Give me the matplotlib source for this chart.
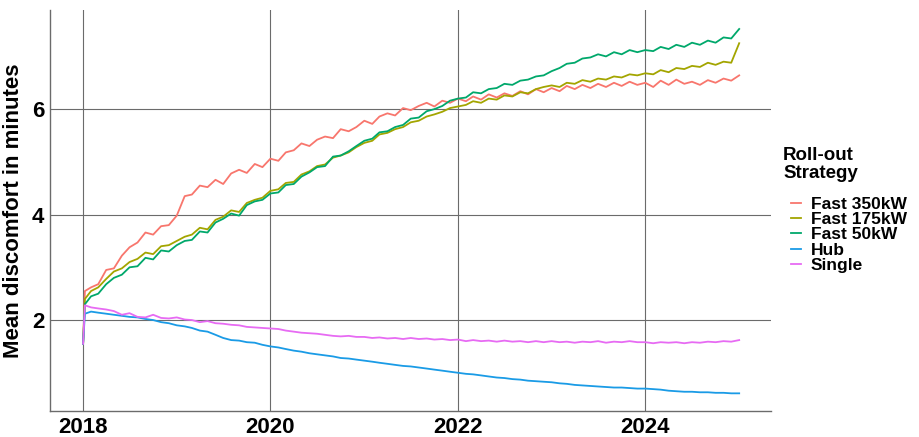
import matplotlib
matplotlib.use("Agg")
import matplotlib.pyplot as plt
import matplotlib.dates as mdates
import pandas as pd

# x positions: first observation, one week later, then monthly to Jan 2025
dates = pd.to_datetime(["2018-01-01", "2018-01-08"]).append(
    pd.date_range("2018-02-01", "2025-01-01", freq="MS"))

fast_350 = [1.55, 2.55,
            2.62, 2.68, 2.95, 2.98, 3.22, 3.38, 3.47, 3.66, 3.62, 3.78, 3.80,
            3.98, 4.35, 4.38, 4.55, 4.52, 4.66, 4.58, 4.78, 4.85, 4.79, 4.96, 4.90,
            5.06, 5.02, 5.18, 5.22, 5.35, 5.30, 5.42, 5.48, 5.45, 5.62, 5.58, 5.66,
            5.78, 5.72, 5.86, 5.92, 5.88, 6.02, 5.98, 6.06, 6.12, 6.05, 6.16, 6.12,
            6.20, 6.15, 6.24, 6.18, 6.28, 6.22, 6.30, 6.25, 6.34, 6.28, 6.38, 6.32,
            6.40, 6.34, 6.44, 6.38, 6.46, 6.40, 6.48, 6.42, 6.50, 6.44, 6.52, 6.46,
            6.50, 6.42, 6.54, 6.46, 6.56, 6.48, 6.52, 6.46, 6.55, 6.50, 6.58, 6.54,
            6.64]

fast_175 = [1.55, 2.40,
            2.55, 2.62, 2.78, 2.92, 2.98, 3.10, 3.16, 3.28, 3.25, 3.40, 3.42,
            3.50, 3.58, 3.62, 3.75, 3.72, 3.90, 3.96, 4.08, 4.05, 4.22, 4.28, 4.32,
            4.45, 4.48, 4.60, 4.62, 4.76, 4.82, 4.92, 4.95, 5.08, 5.12, 5.18, 5.28,
            5.36, 5.40, 5.52, 5.55, 5.62, 5.66, 5.75, 5.78, 5.86, 5.90, 5.95, 6.02,
            6.05, 6.08, 6.15, 6.12, 6.20, 6.18, 6.26, 6.24, 6.32, 6.30, 6.38, 6.42,
            6.45, 6.42, 6.50, 6.48, 6.55, 6.52, 6.58, 6.56, 6.62, 6.60, 6.66, 6.64,
            6.68, 6.66, 6.74, 6.70, 6.78, 6.76, 6.82, 6.80, 6.88, 6.84, 6.90, 6.88,
            7.25]

fast_50 = [1.55, 2.30,
           2.45, 2.50, 2.68, 2.80, 2.86, 3.00, 3.02, 3.18, 3.15, 3.32, 3.30,
           3.42, 3.50, 3.52, 3.68, 3.66, 3.85, 3.92, 4.02, 3.98, 4.18, 4.25, 4.28,
           4.40, 4.42, 4.56, 4.58, 4.72, 4.80, 4.90, 4.92, 5.10, 5.12, 5.20, 5.30,
           5.40, 5.44, 5.56, 5.58, 5.66, 5.70, 5.82, 5.84, 5.96, 6.00, 6.06, 6.16,
           6.20, 6.22, 6.32, 6.30, 6.38, 6.40, 6.48, 6.46, 6.54, 6.56, 6.62, 6.64,
           6.72, 6.78, 6.86, 6.88, 6.96, 6.98, 7.04, 7.00, 7.08, 7.04, 7.12, 7.08,
           7.12, 7.10, 7.18, 7.14, 7.22, 7.18, 7.26, 7.22, 7.30, 7.26, 7.36, 7.34,
           7.52]

hub = [1.55, 2.12,
       2.16, 2.14, 2.12, 2.10, 2.08, 2.06, 2.05, 2.02, 2.00, 1.96, 1.94,
       1.90, 1.88, 1.85, 1.80, 1.78, 1.72, 1.66, 1.62, 1.61, 1.58, 1.57, 1.53,
       1.50, 1.48, 1.45, 1.42, 1.40, 1.37, 1.35, 1.33, 1.31, 1.28, 1.27, 1.25,
       1.23, 1.21, 1.19, 1.17, 1.15, 1.13, 1.12, 1.10, 1.08, 1.06, 1.04, 1.02,
       1.00, 0.98, 0.97, 0.95, 0.93, 0.91, 0.90, 0.88, 0.87, 0.85, 0.84, 0.83,
       0.82, 0.80, 0.79, 0.77, 0.76, 0.75, 0.74, 0.73, 0.72, 0.72, 0.71, 0.70,
       0.70, 0.69, 0.68, 0.66, 0.65, 0.64, 0.64, 0.63, 0.63, 0.62, 0.62, 0.61,
       0.61]

single = [1.55, 2.28,
          2.24, 2.22, 2.20, 2.17, 2.10, 2.13, 2.06, 2.05, 2.10, 2.04, 2.03,
          2.05, 2.01, 2.00, 1.96, 1.98, 1.94, 1.93, 1.91, 1.90, 1.87, 1.86, 1.85,
          1.84, 1.83, 1.80, 1.78, 1.76, 1.75, 1.74, 1.72, 1.70, 1.69, 1.70, 1.68,
          1.68, 1.66, 1.67, 1.65, 1.66, 1.64, 1.66, 1.64, 1.65, 1.63, 1.64, 1.62,
          1.63, 1.60, 1.62, 1.60, 1.61, 1.59, 1.61, 1.59, 1.60, 1.58, 1.60, 1.58,
          1.60, 1.58, 1.59, 1.57, 1.59, 1.58, 1.60, 1.57, 1.59, 1.58, 1.60, 1.58,
          1.58, 1.56, 1.58, 1.57, 1.58, 1.56, 1.58, 1.57, 1.59, 1.58, 1.60, 1.59,
          1.62]

strategies = ["Fast 350kW", "Fast 175kW", "Fast 50kW", "Hub", "Single"]
series = [fast_350, fast_175, fast_50, hub, single]
colors = ["#F8766D", "#A3A500", "#00A86B", "#1A9BE6", "#E76BF3"]

plt.rcParams["font.family"] = ["Liberation Sans", "DejaVu Sans"]
plt.rcParams["font.weight"] = "bold"

fig = plt.figure(figsize=(9.19, 4.37), dpi=100)
ax = fig.add_axes([50 / 919, 26 / 437, 721 / 919, 401 / 437])

for name, vals, col in zip(strategies, series, colors):
    ax.plot(dates, vals, color=col, lw=1.3, label=name)

ax.set_xlim(pd.Timestamp("2017-08-25"), pd.Timestamp("2025-05-05"))
ax.set_ylim(0.275, 7.88)
ax.xaxis.set_major_locator(mdates.YearLocator(2))
ax.xaxis.set_major_formatter(mdates.DateFormatter("%Y"))
ax.set_yticks([2, 4, 6])

ax.grid(True, color="#6b6b6b", lw=0.8)
ax.set_axisbelow(True)
for side in ["top", "right"]:
    ax.spines[side].set_visible(False)
for side in ["left", "bottom"]:
    ax.spines[side].set_color("#6b6b6b")
    ax.spines[side].set_linewidth(1.0)
ax.tick_params(length=0, labelsize=16, pad=4, labelcolor="black")
for lab in ax.get_xticklabels() + ax.get_yticklabels():
    lab.set_fontweight("bold")

ax.set_ylabel("Mean discomfort in minutes", fontsize=16, fontweight="bold", labelpad=6)

# legend title as its own text so the keys can sit indented below it
fig.text(783 / 919, 1 - 147 / 437, "Roll-out\nStrategy", ha="left", va="top",
         fontsize=13.5, fontweight="bold", linespacing=1.05)
leg = fig.legend(loc="upper left", bbox_to_anchor=(791 / 919, 1 - 197 / 437),
                 frameon=False, handlelength=0.55, handletextpad=0.6,
                 labelspacing=0.0, borderaxespad=0, borderpad=0,
                 prop={"size": 12.5, "weight": "bold"})
for line in leg.get_lines():
    line.set_linewidth(1.3)

fig.savefig("out.png", dpi=100)
